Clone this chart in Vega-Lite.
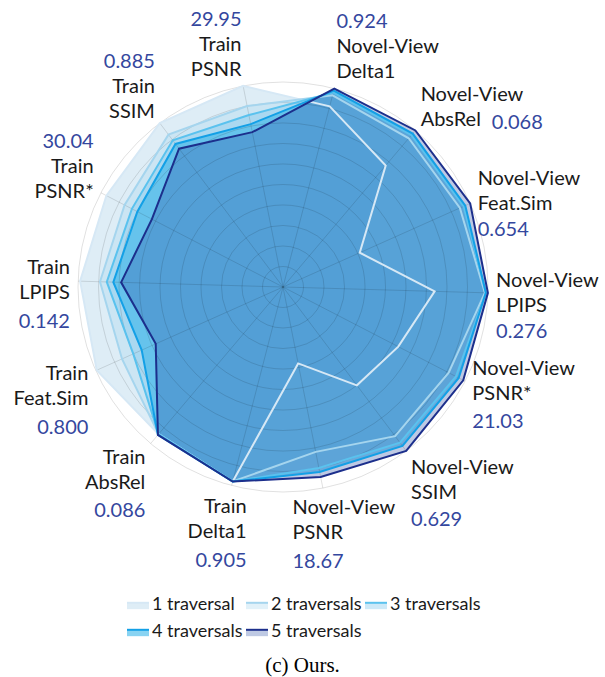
{
  "$schema": "https://vega.github.io/schema/vega-lite/v6.json",
  "width": 605,
  "height": 677,
  "padding": 0,
  "autosize": {"type": "none"},
  "config": {"view": {"stroke": null}, "font": "Lato", "text": {"font": "Lato", "fontSize": 20, "baseline": "middle", "lineBreak": "\n", "lineHeight": 25}},
  "title": {"text": "(c) Ours.", "orient": "bottom", "frame": "group", "offset": -5, "baseline": "alphabetic", "anchor": "middle", "font": "Liberation Serif", "fontSize": 21, "fontWeight": "normal", "color": "#000000"},
  "datasets": {
    "metrics": [
      {"k": 0, "name": "Novel-View\nDelta1", "val": "0.924"},
      {"k": 1, "name": "Novel-View\nAbsRel", "val": "0.068"},
      {"k": 2, "name": "Novel-View\nFeat.Sim", "val": "0.654"},
      {"k": 3, "name": "Novel-View\nLPIPS", "val": "0.276"},
      {"k": 4, "name": "Novel-View\nPSNR*", "val": "21.03"},
      {"k": 5, "name": "Novel-View\nSSIM", "val": "0.629"},
      {"k": 6, "name": "Novel-View\nPSNR", "val": "18.67"},
      {"k": 7, "name": "Train\nDelta1", "val": "0.905"},
      {"k": 8, "name": "Train\nAbsRel", "val": "0.086"},
      {"k": 9, "name": "Train\nFeat.Sim", "val": "0.800"},
      {"k": 10, "name": "Train\nLPIPS", "val": "0.142"},
      {"k": 11, "name": "Train\nPSNR*", "val": "30.04"},
      {"k": 12, "name": "Train\nSSIM", "val": "0.885"},
      {"k": 13, "name": "Train\nPSNR", "val": "29.95"}
    ],
    "grid": [{"r": 0.1}, {"r": 0.2}, {"r": 0.3}, {"r": 0.4}, {"r": 0.5}, {"r": 0.6}, {"r": 0.7}, {"r": 0.8}, {"r": 0.9}, {"r": 1.0}],
    "radar": [
      {"s": "1 traversal", "k": 0, "v": 0.91}, {"s": "1 traversal", "k": 1, "v": 0.776}, {"s": "1 traversal", "k": 2, "v": 0.41}, {"s": "1 traversal", "k": 3, "v": 0.74}, {"s": "1 traversal", "k": 4, "v": 0.633}, {"s": "1 traversal", "k": 5, "v": 0.60}, {"s": "1 traversal", "k": 6, "v": 0.38}, {"s": "1 traversal", "k": 7, "v": 0.98}, {"s": "1 traversal", "k": 8, "v": 0.94}, {"s": "1 traversal", "k": 9, "v": 0.995}, {"s": "1 traversal", "k": 10, "v": 0.99}, {"s": "1 traversal", "k": 11, "v": 0.97}, {"s": "1 traversal", "k": 12, "v": 1.0}, {"s": "1 traversal", "k": 13, "v": 1.0},
      {"s": "2 traversals", "k": 0, "v": 0.966}, {"s": "2 traversals", "k": 1, "v": 0.95}, {"s": "2 traversals", "k": 2, "v": 0.945}, {"s": "2 traversals", "k": 3, "v": 0.985}, {"s": "2 traversals", "k": 4, "v": 0.91}, {"s": "2 traversals", "k": 5, "v": 0.91}, {"s": "2 traversals", "k": 6, "v": 0.82}, {"s": "2 traversals", "k": 7, "v": 0.98}, {"s": "2 traversals", "k": 8, "v": 0.94}, {"s": "2 traversals", "k": 9, "v": 0.86}, {"s": "2 traversals", "k": 10, "v": 0.893}, {"s": "2 traversals", "k": 11, "v": 0.87}, {"s": "2 traversals", "k": 12, "v": 0.93}, {"s": "2 traversals", "k": 13, "v": 0.90},
      {"s": "3 traversals", "k": 0, "v": 0.98}, {"s": "3 traversals", "k": 1, "v": 0.97}, {"s": "3 traversals", "k": 2, "v": 0.965}, {"s": "3 traversals", "k": 3, "v": 0.99}, {"s": "3 traversals", "k": 4, "v": 0.95}, {"s": "3 traversals", "k": 5, "v": 0.95}, {"s": "3 traversals", "k": 6, "v": 0.90}, {"s": "3 traversals", "k": 7, "v": 0.98}, {"s": "3 traversals", "k": 8, "v": 0.94}, {"s": "3 traversals", "k": 9, "v": 0.80}, {"s": "3 traversals", "k": 10, "v": 0.86}, {"s": "3 traversals", "k": 11, "v": 0.83}, {"s": "3 traversals", "k": 12, "v": 0.895}, {"s": "3 traversals", "k": 13, "v": 0.855},
      {"s": "4 traversals", "k": 0, "v": 0.99}, {"s": "4 traversals", "k": 1, "v": 0.98}, {"s": "4 traversals", "k": 2, "v": 0.974}, {"s": "4 traversals", "k": 3, "v": 0.99}, {"s": "4 traversals", "k": 4, "v": 0.965}, {"s": "4 traversals", "k": 5, "v": 0.97}, {"s": "4 traversals", "k": 6, "v": 0.92}, {"s": "4 traversals", "k": 7, "v": 0.98}, {"s": "4 traversals", "k": 8, "v": 0.945}, {"s": "4 traversals", "k": 9, "v": 0.755}, {"s": "4 traversals", "k": 10, "v": 0.828}, {"s": "4 traversals", "k": 11, "v": 0.80}, {"s": "4 traversals", "k": 12, "v": 0.873}, {"s": "4 traversals", "k": 13, "v": 0.81},
      {"s": "5 traversals", "k": 0, "v": 1.0}, {"s": "5 traversals", "k": 1, "v": 1.0}, {"s": "5 traversals", "k": 2, "v": 1.0}, {"s": "5 traversals", "k": 3, "v": 1.0}, {"s": "5 traversals", "k": 4, "v": 0.99}, {"s": "5 traversals", "k": 5, "v": 1.0}, {"s": "5 traversals", "k": 6, "v": 0.945}, {"s": "5 traversals", "k": 7, "v": 0.98}, {"s": "5 traversals", "k": 8, "v": 0.945}, {"s": "5 traversals", "k": 9, "v": 0.68}, {"s": "5 traversals", "k": 10, "v": 0.79}, {"s": "5 traversals", "k": 11, "v": 0.72}, {"s": "5 traversals", "k": 12, "v": 0.844}, {"s": "5 traversals", "k": 13, "v": 0.77}
    ]
  },
  "layer": [
    {
      "data": {"name": "radar"},
      "transform": [
        {"calculate": "(14.5 + datum.k * 360 / 14) * PI / 180", "as": "a"},
        {"calculate": "datum.v * sin(datum.a)", "as": "px"},
        {"calculate": "datum.v * cos(datum.a)", "as": "py"}
      ],
      "mark": {"type": "line", "interpolate": "linear-closed", "strokeOpacity": 0, "strokeWidth": 0},
      "encoding": {
        "x": {"field": "px", "type": "quantitative", "scale": {"domain": [-1, 1], "range": [78, 488]}, "axis": null},
        "y": {"field": "py", "type": "quantitative", "scale": {"domain": [-1, 1], "range": [492, 82]}, "axis": null},
        "order": {"field": "k", "type": "quantitative"},
        "fill": {
          "field": "s", "type": "nominal",
          "scale": {"range": ["rgba(161,204,229,0.35)", "rgba(168,214,237,0.35)", "rgba(109,192,234,0.35)", "rgba(57,181,233,0.6)", "rgba(39,75,163,0.3)"]},
          "legend": {"orient": "none", "legendX": 126, "legendY": 593, "direction": "horizontal", "columns": 3, "gridAlign": "all", "title": null, "symbolType": "M-1,-0.2H1V0.38H-1Z", "symbolSize": 484, "symbolStrokeWidth": 2, "symbolStrokeColor": "transparent", "labelFont": "Lato", "labelFontSize": 18, "labelColor": "#1a1a1a", "labelOpacity": 0, "labelOffset": 2, "columnPadding": -1, "rowPadding": 6, "padding": 0}
        }
      }
    },
    {
      "data": {"name": "grid"},
      "transform": [{"calculate": "0", "as": "z"}],
      "mark": {"type": "point", "shape": "circle", "filled": false, "opacity": 1, "stroke": "#000000", "strokeOpacity": 0.12, "strokeWidth": 1},
      "encoding": {
        "x": {"field": "z", "type": "quantitative", "scale": {"domain": [-1, 1], "range": [78, 488]}, "axis": null},
        "y": {"field": "z", "type": "quantitative", "scale": {"domain": [-1, 1], "range": [492, 82]}, "axis": null},
        "size": {"field": "r", "type": "quantitative", "scale": {"type": "pow", "exponent": 2, "domain": [0, 1], "range": [0, 168100], "zero": true}, "legend": null}
      }
    },
    {
      "data": {"name": "metrics"},
      "transform": [
        {"calculate": "(14.5 + datum.k * 360 / 14) * PI / 180", "as": "a"},
        {"calculate": "sin(datum.a)", "as": "sx"},
        {"calculate": "cos(datum.a)", "as": "sy"},
        {"calculate": "0", "as": "z"}
      ],
      "mark": {"type": "rule", "color": "#000000", "strokeOpacity": 0.12, "strokeWidth": 1},
      "encoding": {
        "x": {"field": "z", "type": "quantitative", "scale": {"domain": [-1, 1], "range": [78, 488]}, "axis": null},
        "y": {"field": "z", "type": "quantitative", "scale": {"domain": [-1, 1], "range": [492, 82]}, "axis": null},
        "x2": {"field": "sx"},
        "y2": {"field": "sy"}
      }
    },
    {
      "data": {"name": "radar"},
      "transform": [
        {"calculate": "(14.5 + datum.k * 360 / 14) * PI / 180", "as": "a"},
        {"calculate": "datum.v * sin(datum.a)", "as": "px"},
        {"calculate": "datum.v * cos(datum.a)", "as": "py"},
        {"calculate": "datum.s", "as": "series"}
      ],
      "mark": {"type": "line", "interpolate": "linear-closed", "strokeWidth": 2},
      "encoding": {
        "x": {"field": "px", "type": "quantitative", "scale": {"domain": [-1, 1], "range": [78, 488]}, "axis": null},
        "y": {"field": "py", "type": "quantitative", "scale": {"domain": [-1, 1], "range": [492, 82]}, "axis": null},
        "order": {"field": "k", "type": "quantitative"},
        "stroke": {
          "field": "series", "type": "nominal",
          "scale": {"range": ["#d6e8f5", "#a5d5ee", "#5ac2ee", "#13a0e6", "#1c2f8c"]},
          "legend": {"orient": "none", "legendX": 126, "legendY": 593, "direction": "horizontal", "columns": 3, "gridAlign": "all", "title": null, "symbolType": "M-1,-0.2H1", "symbolSize": 484, "symbolStrokeWidth": 2, "labelFont": "Lato", "labelFontSize": 18, "labelColor": "#1a1a1a", "labelOffset": 2, "columnPadding": -1, "rowPadding": 6, "padding": 0}
        }
      }
    },
    {
      "data": {"name": "metrics"},
      "transform": [
        {"calculate": "(14.5 + datum.k * 360 / 14) * PI / 180", "as": "a"},
        {"calculate": "1.04 * sin(datum.a)", "as": "lx"},
        {"calculate": "1.146 * cos(datum.a)", "as": "ly"}
      ],
      "encoding": {
        "x": {"field": "lx", "type": "quantitative", "scale": {"domain": [-1, 1], "range": [78, 488]}, "axis": null},
        "y": {"field": "ly", "type": "quantitative", "scale": {"domain": [-1, 1], "range": [492, 82]}, "axis": null}
      },
      "layer": [
        {"transform": [{"filter": "datum.k <= 3"}], "mark": {"type": "text", "align": "left", "dy": -12.5, "color": "#1a1a1a"}, "encoding": {"text": {"field": "name"}}},
        {"transform": [{"filter": "datum.k == 4"}], "mark": {"type": "text", "align": "left", "dy": -25.5, "color": "#1a1a1a"}, "encoding": {"text": {"field": "name"}}},
        {"transform": [{"filter": "datum.k == 5"}], "mark": {"type": "text", "align": "left", "dy": -7, "color": "#1a1a1a"}, "encoding": {"text": {"field": "name"}}},
        {"transform": [{"filter": "datum.k == 6"}], "mark": {"type": "text", "align": "left", "dx": -32, "dy": -9, "color": "#1a1a1a"}, "encoding": {"text": {"field": "name"}}},
        {"transform": [{"filter": "datum.k == 7"}], "mark": {"type": "text", "align": "right", "dx": 17, "dy": -7.5, "color": "#1a1a1a"}, "encoding": {"text": {"field": "name"}}},
        {"transform": [{"filter": "datum.k == 8 || datum.k == 9"}], "mark": {"type": "text", "align": "right", "dy": -8.5, "color": "#1a1a1a"}, "encoding": {"text": {"field": "name"}}},
        {"transform": [{"filter": "datum.k >= 10"}], "mark": {"type": "text", "align": "right", "dy": -12, "color": "#1a1a1a"}, "encoding": {"text": {"field": "name"}}},
        {"transform": [{"filter": "datum.k == 0"}], "mark": {"type": "text", "align": "left", "dy": -37.5, "color": "#34479e"}, "encoding": {"text": {"field": "val"}}},
        {"transform": [{"filter": "datum.k >= 11"}], "mark": {"type": "text", "align": "right", "dy": -37, "color": "#34479e"}, "encoding": {"text": {"field": "val"}}},
        {"transform": [{"filter": "datum.k == 1"}], "mark": {"type": "text", "align": "left", "dx": 71, "dy": 15, "color": "#34479e"}, "encoding": {"text": {"field": "val"}}},
        {"transform": [{"filter": "datum.k == 2 || datum.k == 3"}], "mark": {"type": "text", "align": "left", "dy": 38.5, "color": "#34479e"}, "encoding": {"text": {"field": "val"}}},
        {"transform": [{"filter": "datum.k == 4"}], "mark": {"type": "text", "align": "left", "dy": 27.5, "color": "#34479e"}, "encoding": {"text": {"field": "val"}}},
        {"transform": [{"filter": "datum.k == 5"}], "mark": {"type": "text", "align": "left", "dy": 45, "color": "#34479e"}, "encoding": {"text": {"field": "val"}}},
        {"transform": [{"filter": "datum.k == 6"}], "mark": {"type": "text", "align": "left", "dx": -32, "dy": 44.5, "color": "#34479e"}, "encoding": {"text": {"field": "val"}}},
        {"transform": [{"filter": "datum.k == 7"}], "mark": {"type": "text", "align": "right", "dx": 17, "dy": 47, "color": "#34479e"}, "encoding": {"text": {"field": "val"}}},
        {"transform": [{"filter": "datum.k == 8 || datum.k == 9"}], "mark": {"type": "text", "align": "right", "dy": 45, "color": "#34479e"}, "encoding": {"text": {"field": "val"}}},
        {"transform": [{"filter": "datum.k == 10"}], "mark": {"type": "text", "align": "right", "dy": 42, "color": "#34479e"}, "encoding": {"text": {"field": "val"}}}
      ]
    }
  ]
}
